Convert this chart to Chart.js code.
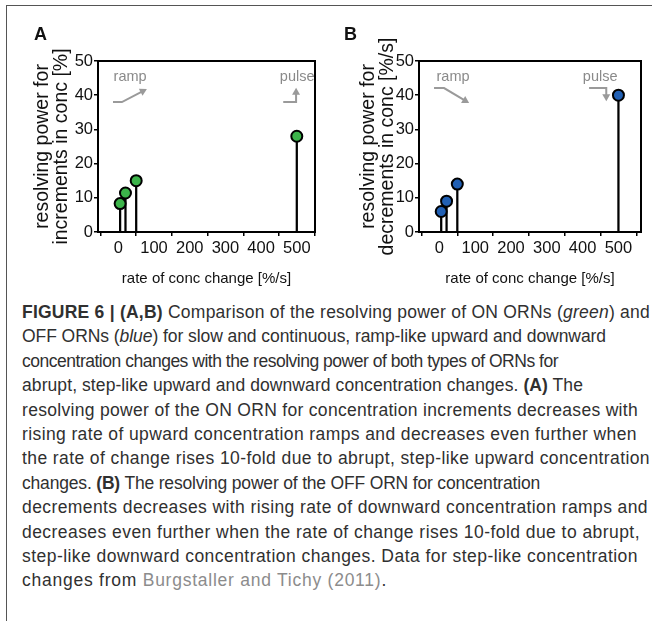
<!DOCTYPE html>
<html>
<head>
<meta charset="utf-8">
<script src="https://cdn.jsdelivr.net/npm/chart.js@4.4.1/dist/chart.umd.min.js"></script>
<style>
  body { margin: 0; background: #fff; width: 652px; height: 621px; overflow: hidden; position: relative; font-family: "Liberation Sans", Arial, sans-serif; }
  #frame { position: absolute; left: 6px; top: 5px; width: 660px; height: 640px; border-left: 1.5px solid #555; border-top: 1.5px solid #555; }
  .panel { position: absolute; top: 0; }
  .plabel { position: absolute; font-weight: bold; font-size: 18px; color: #111; }
  #caption { position: absolute; left: 22px; top: 300px; font-size: 17.5px; line-height: 24.4px; color: #303030; white-space: nowrap; }
  #caption div { display: block; width: max-content; }
  #caption .cite { color: #8c8c8c; }
</style>
</head>
<body>
<div id="frame"></div>
<canvas id="chartA" class="panel" style="left:0px" width="326" height="300"></canvas>
<canvas id="chartB" class="panel" style="left:326px" width="326" height="300"></canvas>
<div class="plabel" style="left:34px;top:24px">A</div>
<div class="plabel" style="left:344px;top:24px">B</div>
<div id="caption">
<div><b>FIGURE 6 | (A,B)</b> Comparison of the resolving power of ON ORNs (<i>green</i>) and</div>
<div>OFF ORNs (<i>blue</i>) for slow and continuous, ramp-like upward and downward</div>
<div>concentration changes with the resolving power of both types of ORNs for</div>
<div>abrupt, step-like upward and downward concentration changes. <b>(A)</b> The</div>
<div>resolving power of the ON ORN for concentration increments decreases with</div>
<div>rising rate of upward concentration ramps and decreases even further when</div>
<div>the rate of change rises 10-fold due to abrupt, step-like upward concentration</div>
<div>changes. <b>(B)</b> The resolving power of the OFF ORN for concentration</div>
<div>decrements decreases with rising rate of downward concentration ramps and</div>
<div>decreases even further when the rate of change rises 10-fold due to abrupt,</div>
<div>step-like downward concentration changes. Data for step-like concentration</div>
<div>changes from <span class="cite">Burgstaller and Tichy (2011)</span>.</div>
</div>
<script>
// rate of concentration change [%/s]
const rates = [5, 20, 50, 500];
// resolving power, ON ORN (increments) and OFF ORN (decrements)
const onValues = [8.3, 11.4, 15, 28];
const offValues = [6, 9, 14, 40];
const xTickValues = [0, 100, 200, 300, 400, 500];

const green = '#3cb44a';
const blue = '#2160b4';
const gray = '#9a9a9a';
const fontFam = '"Liberation Sans", Arial, sans-serif';

// ramp / pulse annotations, in data units
const notesA = {
  ramp: { text: [33, 45.3], path: [[-15, 38], [10, 38], [80, 41.8]] },
  pulse: { text: [501, 45.3], path: [[462, 38], [498, 38], [498, 42.2]] }
};
const notesB = {
  ramp: { text: [38, 45.3], path: [[-15, 42.1], [13, 42.1], [83, 37.7]] },
  pulse: { text: [449, 45.3], path: [[418, 42.1], [466, 42.1], [466, 38.2]] }
};

// right edge of each caption line in the reference
const captionEnds = [650, 606, 558, 583, 638, 637, 650, 540, 648, 640, 638, 387];

const boxPlugin = {
  id: 'box',
  afterDraw(chart) {
    const { ctx, chartArea: a, scales } = chart;
    ctx.save();
    ctx.strokeStyle = '#000';
    ctx.lineWidth = 2;
    ctx.strokeRect(a.left, a.top, a.right - a.left, a.bottom - a.top);

    const notes = chart.options.plugins.box.notes;
    ctx.strokeStyle = gray;
    ctx.lineWidth = 2;
    ctx.font = '14.5px ' + fontFam;
    ctx.textAlign = 'center';
    ctx.textBaseline = 'middle';
    Object.keys(notes).forEach(key => {
      const n = notes[key];
      ctx.fillStyle = '#8a8a8a';
      ctx.fillText(key, scales.x.getPixelForValue(n.text[0]), scales.y.getPixelForValue(n.text[1]));
      const pts = n.path.map(p => [scales.x.getPixelForValue(p[0]), scales.y.getPixelForValue(p[1])]);
      const last = pts[pts.length - 1];
      const prev = pts[pts.length - 2];
      const ang = Math.atan2(last[1] - prev[1], last[0] - prev[0]);
      const head = 7;
      ctx.beginPath();
      ctx.moveTo(pts[0][0], pts[0][1]);
      for (let i = 1; i < pts.length - 1; i++) ctx.lineTo(pts[i][0], pts[i][1]);
      ctx.lineTo(last[0] - Math.cos(ang) * head * 0.8, last[1] - Math.sin(ang) * head * 0.8);
      ctx.stroke();
      ctx.fillStyle = gray;
      ctx.beginPath();
      ctx.moveTo(last[0], last[1]);
      ctx.lineTo(last[0] - Math.cos(ang) * head + Math.sin(ang) * 4, last[1] - Math.sin(ang) * head - Math.cos(ang) * 4);
      ctx.lineTo(last[0] - Math.cos(ang) * head - Math.sin(ang) * 4, last[1] - Math.sin(ang) * head + Math.cos(ang) * 4);
      ctx.closePath();
      ctx.fill();
    });
    ctx.restore();
  }
};

function makeChart(id, values, color, yTitle, xMin, xMax, yAxisWidth, notes) {
  const ctx = document.getElementById(id).getContext('2d');
  return new Chart(ctx, {
    type: 'bar',
    data: {
      datasets: [
        {
          type: 'scatter',
          data: rates.map((r, i) => ({ x: r, y: values[i] })),
          backgroundColor: color,
          borderColor: '#000',
          borderWidth: 2,
          pointRadius: 5.5,
          order: 0
        },
        {
          type: 'bar',
          data: rates.map((r, i) => ({ x: r, y: values[i] })),
          backgroundColor: '#000',
          barThickness: 1.6,
          order: 1
        }
      ]
    },
    options: {
      responsive: false,
      animation: false,
      layout: { padding: { left: 0, right: 11, top: 61, bottom: 0 } },
      plugins: {
        legend: { display: false },
        tooltip: { enabled: false },
        box: { notes: notes }
      },
      scales: {
        x: {
          type: 'linear',
          min: xMin,
          max: xMax,
          offset: false,
          grid: { display: true, drawOnChartArea: false, drawTicks: true, tickLength: 4, color: '#000', lineWidth: 1.5 },
          border: { display: true, color: '#000', width: 2 },
          ticks: { stepSize: 100, includeBounds: false, padding: 3, color: '#111', font: { size: 16.5, family: fontFam } },
          afterBuildTicks: s => { s.ticks = xTickValues.map(v => ({ value: v })); },
          afterFit: s => { s.height = 68; },
          title: { display: true, text: 'rate of conc change [%/s]', color: '#111', padding: { top: 0, bottom: 12 }, font: { size: 15, family: fontFam } }
        },
        y: {
          min: 0,
          max: 50,
          grid: { display: true, drawOnChartArea: false, drawTicks: true, tickLength: 4, color: '#000', lineWidth: 1.5 },
          border: { display: true, color: '#000', width: 2 },
          ticks: { stepSize: 10, padding: 1, color: '#111', font: { size: 16.5, family: fontFam } },
          afterFit: s => { s.width = yAxisWidth; },
          title: { display: true, text: yTitle, color: '#111', padding: { top: 33.5, bottom: 0 }, font: { size: 19.5, lineHeight: 0.95, family: fontFam } }
        }
      }
    },
    plugins: [boxPlugin]
  });
}

makeChart('chartA', onValues, green, ['resolving power for', 'increments in conc [%]'], -57, 551, 98, notesA);
makeChart('chartB', offValues, blue, ['resolving power for', 'decrements in conc [%/s]'], -57, 563, 93, notesB);

// stretch each caption line to the width it has in the reference
document.querySelectorAll('#caption div').forEach((line, i) => {
  const left = line.getBoundingClientRect().left;
  const w = line.getBoundingClientRect().width;
  const n = line.textContent.length;
  const ls = (captionEnds[i] - left - w) / n;
  line.style.letterSpacing = ls.toFixed(3) + 'px';
});
</script>
</body>
</html>
